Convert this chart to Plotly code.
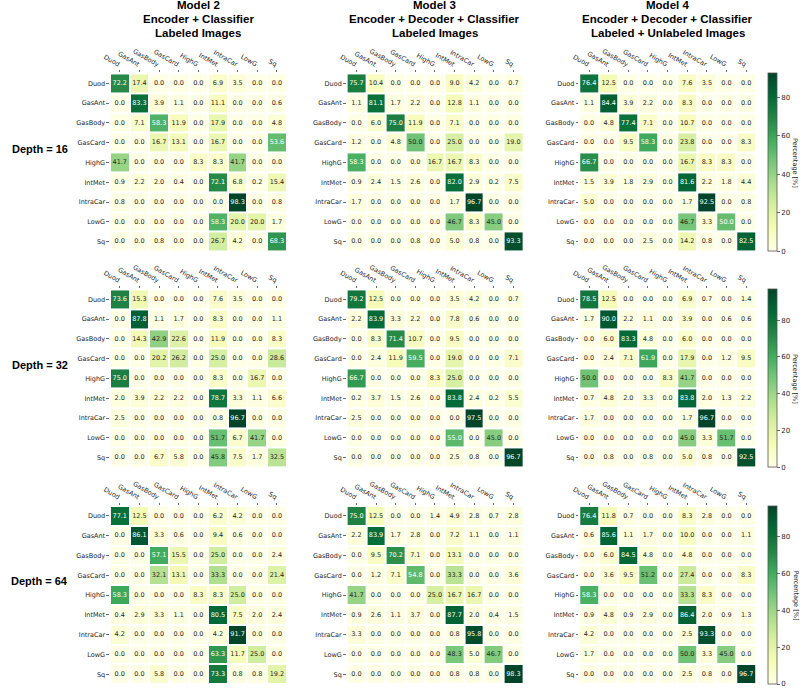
import plotly.graph_objects as go

labels = ["Duod", "GasAnt", "GasBody", "GasCard", "HighG", "IntMet", "IntraCar", "LowG", "Sq"]

model_titles = [
    ["Model 2", "Encoder + Classifier", "Labeled Images"],
    ["Model 3", "Encoder + Decoder + Classifier", "Labeled Images"],
    ["Model 4", "Encoder + Decoder + Classifier", "Labeled + Unlabeled Images"],
]
depths = [16, 32, 64]
colorbar_ticks = [0, 20, 40, 60, 80]

# ---- Depth = 16 ----
m2_d16 = [
    [72.2, 17.4, 0.0, 0.0, 0.0, 6.9, 3.5, 0.0, 0.0],
    [0.0, 83.3, 3.9, 1.1, 0.0, 11.1, 0.0, 0.0, 0.6],
    [0.0, 7.1, 58.3, 11.9, 0.0, 17.9, 0.0, 0.0, 4.8],
    [0.0, 0.0, 16.7, 13.1, 0.0, 16.7, 0.0, 0.0, 53.6],
    [41.7, 0.0, 0.0, 0.0, 8.3, 8.3, 41.7, 0.0, 0.0],
    [0.9, 2.2, 2.0, 0.4, 0.0, 72.1, 6.8, 0.2, 15.4],
    [0.8, 0.0, 0.0, 0.0, 0.0, 0.0, 98.3, 0.0, 0.8],
    [0.0, 0.0, 0.0, 0.0, 0.0, 58.3, 20.0, 20.0, 1.7],
    [0.0, 0.0, 0.8, 0.0, 0.0, 26.7, 4.2, 0.0, 68.3],
]
m3_d16 = [
    [75.7, 10.4, 0.0, 0.0, 0.0, 9.0, 4.2, 0.0, 0.7],
    [1.1, 81.1, 1.7, 2.2, 0.0, 12.8, 1.1, 0.0, 0.0],
    [0.0, 6.0, 75.0, 11.9, 0.0, 7.1, 0.0, 0.0, 0.0],
    [1.2, 0.0, 4.8, 50.0, 0.0, 25.0, 0.0, 0.0, 19.0],
    [58.3, 0.0, 0.0, 0.0, 16.7, 16.7, 8.3, 0.0, 0.0],
    [0.9, 2.4, 1.5, 2.6, 0.0, 82.0, 2.9, 0.2, 7.5],
    [1.7, 0.0, 0.0, 0.0, 0.0, 1.7, 96.7, 0.0, 0.0],
    [0.0, 0.0, 0.0, 0.0, 0.0, 46.7, 8.3, 45.0, 0.0],
    [0.0, 0.0, 0.0, 0.8, 0.0, 5.0, 0.8, 0.0, 93.3],
]
m4_d16 = [
    [76.4, 12.5, 0.0, 0.0, 0.0, 7.6, 3.5, 0.0, 0.0],
    [1.1, 84.4, 3.9, 2.2, 0.0, 8.3, 0.0, 0.0, 0.0],
    [0.0, 4.8, 77.4, 7.1, 0.0, 10.7, 0.0, 0.0, 0.0],
    [0.0, 0.0, 9.5, 58.3, 0.0, 23.8, 0.0, 0.0, 8.3],
    [66.7, 0.0, 0.0, 0.0, 0.0, 16.7, 8.3, 8.3, 0.0],
    [1.5, 3.9, 1.8, 2.9, 0.0, 81.6, 2.2, 1.8, 4.4],
    [5.0, 0.0, 0.0, 0.0, 0.0, 1.7, 92.5, 0.0, 0.8],
    [0.0, 0.0, 0.0, 0.0, 0.0, 46.7, 3.3, 50.0, 0.0],
    [0.0, 0.0, 0.0, 2.5, 0.0, 14.2, 0.8, 0.0, 82.5],
]
# ---- Depth = 32 ----
m2_d32 = [
    [73.6, 15.3, 0.0, 0.0, 0.0, 7.6, 3.5, 0.0, 0.0],
    [0.0, 87.8, 1.1, 1.7, 0.0, 8.3, 0.0, 0.0, 1.1],
    [0.0, 14.3, 42.9, 22.6, 0.0, 11.9, 0.0, 0.0, 8.3],
    [0.0, 0.0, 20.2, 26.2, 0.0, 25.0, 0.0, 0.0, 28.6],
    [75.0, 0.0, 0.0, 0.0, 0.0, 8.3, 0.0, 16.7, 0.0],
    [2.0, 3.9, 2.2, 2.2, 0.0, 78.7, 3.3, 1.1, 6.6],
    [2.5, 0.0, 0.0, 0.0, 0.0, 0.8, 96.7, 0.0, 0.0],
    [0.0, 0.0, 0.0, 0.0, 0.0, 51.7, 6.7, 41.7, 0.0],
    [0.0, 0.0, 6.7, 5.8, 0.0, 45.8, 7.5, 1.7, 32.5],
]
m3_d32 = [
    [79.2, 12.5, 0.0, 0.0, 0.0, 3.5, 4.2, 0.0, 0.7],
    [2.2, 83.9, 3.3, 2.2, 0.0, 7.8, 0.6, 0.0, 0.0],
    [0.0, 8.3, 71.4, 10.7, 0.0, 9.5, 0.0, 0.0, 0.0],
    [0.0, 2.4, 11.9, 59.5, 0.0, 19.0, 0.0, 0.0, 7.1],
    [66.7, 0.0, 0.0, 0.0, 8.3, 25.0, 0.0, 0.0, 0.0],
    [0.2, 3.7, 1.5, 2.6, 0.0, 83.8, 2.4, 0.2, 5.5],
    [2.5, 0.0, 0.0, 0.0, 0.0, 0.0, 97.5, 0.0, 0.0],
    [0.0, 0.0, 0.0, 0.0, 0.0, 55.0, 0.0, 45.0, 0.0],
    [0.0, 0.0, 0.0, 0.0, 0.0, 2.5, 0.8, 0.0, 96.7],
]
m4_d32 = [
    [78.5, 12.5, 0.0, 0.0, 0.0, 6.9, 0.7, 0.0, 1.4],
    [1.7, 90.0, 2.2, 1.1, 0.0, 3.9, 0.0, 0.6, 0.6],
    [0.0, 6.0, 83.3, 4.8, 0.0, 6.0, 0.0, 0.0, 0.0],
    [0.0, 2.4, 7.1, 61.9, 0.0, 17.9, 0.0, 1.2, 9.5],
    [50.0, 0.0, 0.0, 0.0, 8.3, 41.7, 0.0, 0.0, 0.0],
    [0.7, 4.8, 2.0, 3.3, 0.0, 83.8, 2.0, 1.3, 2.2],
    [1.7, 0.0, 0.0, 0.0, 0.0, 1.7, 96.7, 0.0, 0.0],
    [0.0, 0.0, 0.0, 0.0, 0.0, 45.0, 3.3, 51.7, 0.0],
    [0.0, 0.8, 0.0, 0.8, 0.0, 5.0, 0.8, 0.0, 92.5],
]
# ---- Depth = 64 ----
m2_d64 = [
    [77.1, 12.5, 0.0, 0.0, 0.0, 6.2, 4.2, 0.0, 0.0],
    [0.0, 86.1, 3.3, 0.6, 0.0, 9.4, 0.6, 0.0, 0.0],
    [0.0, 0.0, 57.1, 15.5, 0.0, 25.0, 0.0, 0.0, 2.4],
    [0.0, 0.0, 32.1, 13.1, 0.0, 33.3, 0.0, 0.0, 21.4],
    [58.3, 0.0, 0.0, 0.0, 8.3, 8.3, 25.0, 0.0, 0.0],
    [0.4, 2.9, 3.3, 1.1, 0.0, 80.5, 7.5, 2.0, 2.4],
    [4.2, 0.0, 0.0, 0.0, 0.0, 4.2, 91.7, 0.0, 0.0],
    [0.0, 0.0, 0.0, 0.0, 0.0, 63.3, 11.7, 25.0, 0.0],
    [0.0, 0.0, 5.8, 0.0, 0.0, 73.3, 0.8, 0.8, 19.2],
]
m3_d64 = [
    [75.0, 12.5, 0.0, 0.0, 1.4, 4.9, 2.8, 0.7, 2.8],
    [2.2, 83.9, 1.7, 2.8, 0.0, 7.2, 1.1, 0.0, 1.1],
    [0.0, 9.5, 70.2, 7.1, 0.0, 13.1, 0.0, 0.0, 0.0],
    [0.0, 1.2, 7.1, 54.8, 0.0, 33.3, 0.0, 0.0, 3.6],
    [41.7, 0.0, 0.0, 0.0, 25.0, 16.7, 16.7, 0.0, 0.0],
    [0.9, 2.6, 1.1, 3.7, 0.0, 87.7, 2.0, 0.4, 1.5],
    [3.3, 0.0, 0.0, 0.0, 0.0, 0.8, 95.8, 0.0, 0.0],
    [0.0, 0.0, 0.0, 0.0, 0.0, 48.3, 5.0, 46.7, 0.0],
    [0.0, 0.0, 0.0, 0.0, 0.0, 0.8, 0.8, 0.0, 98.3],
]
m4_d64 = [
    [76.4, 11.8, 0.7, 0.0, 0.0, 8.3, 2.8, 0.0, 0.0],
    [0.6, 85.6, 1.1, 1.7, 0.0, 10.0, 0.0, 0.0, 1.1],
    [0.0, 6.0, 84.5, 4.8, 0.0, 4.8, 0.0, 0.0, 0.0],
    [0.0, 3.6, 9.5, 51.2, 0.0, 27.4, 0.0, 0.0, 8.3],
    [58.3, 0.0, 0.0, 0.0, 0.0, 33.3, 8.3, 0.0, 0.0],
    [0.9, 4.8, 0.9, 2.9, 0.0, 86.4, 2.0, 0.9, 1.3],
    [4.2, 0.0, 0.0, 0.0, 0.0, 2.5, 93.3, 0.0, 0.0],
    [1.7, 0.0, 0.0, 0.0, 0.0, 50.0, 3.3, 45.0, 0.0],
    [0.0, 0.0, 0.0, 0.0, 0.0, 2.5, 0.8, 0.0, 96.7],
]

grid = [
    [m2_d16, m3_d16, m4_d16],
    [m2_d32, m3_d32, m4_d32],
    [m2_d64, m3_d64, m4_d64],
]

# ---------------- styling ----------------
W, H = 800, 689
YLGN = ["#ffffe5", "#f7fcb9", "#d9f0a3", "#addd8e", "#78c679",
        "#41ab5d", "#238443", "#006837", "#004529"]
colorscale = [[i / (len(YLGN) - 1), c] for i, c in enumerate(YLGN)]

col_x0 = [103.0, 342.0, 577.0]
row_y0 = [73.4, 289.4, 506.0]
CW = 178.5
CH = 178.2

TXT = "#262626"
FONT = "DejaVu Sans"
TFONT = "Liberation Sans, Arial, sans-serif"


def hex2rgb(h):
    h = h.lstrip("#")
    return tuple(int(h[i:i + 2], 16) / 255 for i in (0, 2, 4))


def cmap(t):
    t = min(max(t, 0.0), 1.0)
    pos = t * (len(YLGN) - 1)
    i = min(int(pos), len(YLGN) - 2)
    f = pos - i
    a, b = hex2rgb(YLGN[i]), hex2rgb(YLGN[i + 1])
    return tuple(a[k] + (b[k] - a[k]) * f for k in range(3))


def lum(rgb):
    lin = [c / 12.92 if c <= 0.03928 else ((c + 0.055) / 1.055) ** 2.4 for c in rgb]
    return 0.2126 * lin[0] + 0.7152 * lin[1] + 0.0722 * lin[2]


fig = go.Figure()
layout = {}
n = 0
for r in range(3):
    for c in range(3):
        n += 1
        z = grid[r][c]
        zmax = max(max(row) for row in z)
        xa = "x" if n == 1 else f"x{n}"
        ya = "y" if n == 1 else f"y{n}"
        hm = dict(
            z=z, x=list(range(9)), y=list(range(9)),
            colorscale=colorscale, zmin=0, zmax=zmax,
            xgap=2, ygap=2, xaxis=xa, yaxis=ya, hoverinfo="skip",
            showscale=(c == 2),
        )
        if c == 2:
            hm["colorbar"] = dict(
                x=767.5 / W, xanchor="left", xpad=0,
                y=1 - row_y0[r] / H, yanchor="top", ypad=0,
                len=CH / H, lenmode="fraction", thickness=9,
                outlinewidth=0.8, outlinecolor="#555555",
                tickvals=colorbar_ticks, ticks="outside", ticklen=3,
                tickwidth=0.8, tickcolor="#444444",
                tickfont=dict(size=7, color=TXT, family=FONT),
            )
        fig.add_trace(go.Heatmap(**hm))

        xs, ys, ts, cs = [], [], [], []
        for i in range(9):
            for j in range(9):
                v = z[i][j]
                xs.append(j)
                ys.append(i)
                ts.append(f"{v:.1f}")
                cs.append(TXT if lum(cmap(v / zmax)) > 0.408 else "#ffffff")
        fig.add_trace(go.Scatter(
            x=xs, y=ys, text=ts, mode="text", xaxis=xa, yaxis=ya,
            textfont=dict(size=6.5, color=cs, family=FONT),
            hoverinfo="skip", showlegend=False,
        ))

        x0 = col_x0[c]
        y0 = row_y0[r]
        layout["xaxis" if n == 1 else f"xaxis{n}"] = dict(
            domain=[x0 / W, (x0 + CW) / W], anchor=ya, side="top",
            range=[-0.5, 8.5], tickvals=list(range(9)), ticktext=labels,
            tickangle=30, ticks="outside", ticklen=2.5, tickwidth=0.8,
            tickcolor="#444444", tickfont=dict(size=6.5, color=TXT, family=FONT),
            showgrid=False, zeroline=False, showline=False, fixedrange=True,
        )
        layout["yaxis" if n == 1 else f"yaxis{n}"] = dict(
            domain=[1 - (y0 + CH) / H, 1 - y0 / H], anchor=xa,
            range=[8.5, -0.5], tickvals=list(range(9)), ticktext=labels,
            ticks="outside", ticklen=2.5, tickwidth=0.8, tickcolor="#444444",
            tickfont=dict(size=6.5, color=TXT, family=FONT),
            showgrid=False, zeroline=False, showline=False, fixedrange=True,
        )

annotations = []
title_y = [5, 19, 33]
for c in range(3):
    cx = (col_x0[c] + CW / 2) / W
    for k, line in enumerate(model_titles[c]):
        annotations.append(dict(
            x=cx, y=1 - title_y[k] / H, xref="paper", yref="paper",
            text=f"<b>{line}</b>", showarrow=False, xanchor="center", yanchor="middle",
            font=dict(size=11.5, color="#000000", family=TFONT),
        ))
for r in range(3):
    cy = row_y0[r] + CH / 2 - 14
    annotations.append(dict(
        x=32 / W, y=1 - cy / H, xref="paper", yref="paper",
        text=f"<b>Depth = {depths[r]}</b>", showarrow=False,
        xanchor="center", yanchor="middle",
        font=dict(size=11, color="#000000", family=TFONT),
    ))
    annotations.append(dict(
        x=795.5 / W, y=1 - (row_y0[r] + CH / 2) / H, xref="paper", yref="paper",
        text="Percentage [%]", showarrow=False, textangle=90,
        xanchor="center", yanchor="middle",
        font=dict(size=6.5, color=TXT, family=FONT),
    ))

fig.update_layout(
    **layout,
    width=W, height=H, margin=dict(l=0, r=0, t=0, b=0),
    paper_bgcolor="white", plot_bgcolor="white",
    showlegend=False, annotations=annotations,
)

fig.write_html(
    "out.html",
    config={"displayModeBar": False, "staticPlot": True},
    post_script="document.body.style.margin='0px';document.body.style.overflow='hidden';",
)
